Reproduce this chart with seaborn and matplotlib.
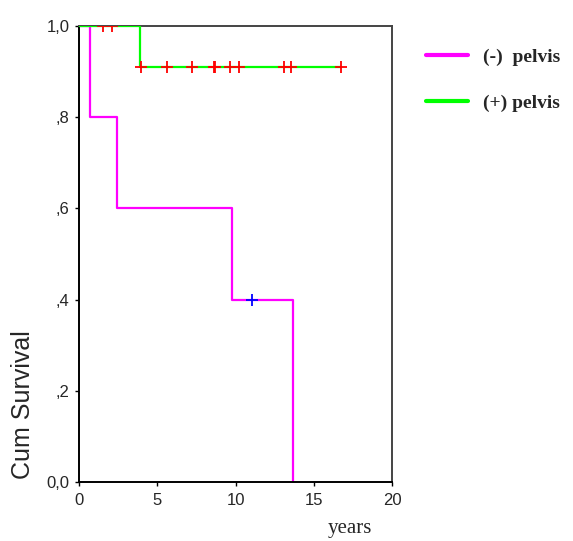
import matplotlib
matplotlib.use("Agg")
import matplotlib.pyplot as plt
import seaborn as sns
import pandas as pd
from matplotlib.lines import Line2D

# Data
neg_time = [0.0, 0.7, 2.4, 9.8, 13.7]
neg_surv = [1.0, 0.8, 0.6, 0.4, 0.0]
neg_cens_time = [11.05]
neg_cens_surv = [0.4]

pos_time = [0.0, 3.9, 16.74]
pos_surv = [1.0, 0.909, 0.909]
pos_cens_time = [1.55, 2.09, 3.96, 5.6, 7.2, 8.63, 8.69, 9.65, 10.2, 13.1, 13.55, 16.74]
pos_cens_surv = [1.0, 1.0, 0.909, 0.909, 0.909, 0.909, 0.909, 0.909, 0.909, 0.909, 0.909, 0.909]

labels = ["(-)  pelvis", "(+) pelvis"]
colors = ["#FF00FF", "#00FF00"]
x_ticks = [0, 5, 10, 15, 20]
y_ticks = [0.0, 0.2, 0.4, 0.6, 0.8, 1.0]
y_tick_labels = ["0,0", ",2", ",4", ",6", ",8", "1,0"]

sns.set_style("white")
plt.rcParams["font.family"] = ["Liberation Sans", "DejaVu Sans"]

fig = plt.figure(figsize=(5.73, 5.41), dpi=100)
ax = fig.add_axes([79/573, 1-482/541, 313/573, 456/541])

df_neg = pd.DataFrame({"t": neg_time, "s": neg_surv})
df_pos = pd.DataFrame({"t": pos_time, "s": pos_surv})
sns.lineplot(data=df_neg, x="t", y="s", ax=ax, color=colors[0], lw=1.6,
             drawstyle="steps-post", estimator=None, sort=False, zorder=2)
sns.lineplot(data=df_pos, x="t", y="s", ax=ax, color=colors[1], lw=1.6,
             drawstyle="steps-post", estimator=None, sort=False, zorder=3)
sns.scatterplot(x=pos_cens_time, y=pos_cens_surv, ax=ax, marker="+", color="#FF0000",
                s=70, linewidth=1.3, zorder=4)
sns.scatterplot(x=neg_cens_time, y=neg_cens_surv, ax=ax, marker="+", color="#0000FF",
                s=70, linewidth=1.3, zorder=4)

ax.set_xlim(0, 20)
ax.set_ylim(0, 1)
ax.set_xticks(x_ticks)
ax.set_xticklabels([str(v) for v in x_ticks])
ax.set_yticks(y_ticks)
ax.set_yticklabels(y_tick_labels)
ax.tick_params(axis="both", which="both", direction="out", length=3, width=1,
               labelsize=12, color="black", bottom=True, left=True)
ax.tick_params(axis="x", pad=5)
ax.tick_params(axis="y", pad=4)

for side in ["left", "bottom"]:
    ax.spines[side].set_color("black")
    ax.spines[side].set_linewidth(1.4)
for side in ["top", "right"]:
    ax.spines[side].set_color("#444444")
    ax.spines[side].set_linewidth(1.4)
    ax.spines[side].set_visible(True)

ax.set_xlabel("years", family=["Liberation Serif", "DejaVu Serif"], fontsize=15)
ax.xaxis.set_label_coords(0.866, -0.082)
ax.set_ylabel("Cum Survival", fontsize=18, fontstretch="condensed")
ax.yaxis.set_label_coords(-0.14, 0.17)

handles = [Line2D([0], [0], color=c, lw=3) for c in colors]
leg = fig.legend(handles, labels, loc="upper left", bbox_to_anchor=(408/573, 1-31/541),
                 frameon=False, handlelength=2.2, handletextpad=0.75, labelspacing=1.45,
                 prop={"family": ["Liberation Serif", "DejaVu Serif"], "weight": "bold", "size": 14})

fig.savefig("out.png", dpi=100)
